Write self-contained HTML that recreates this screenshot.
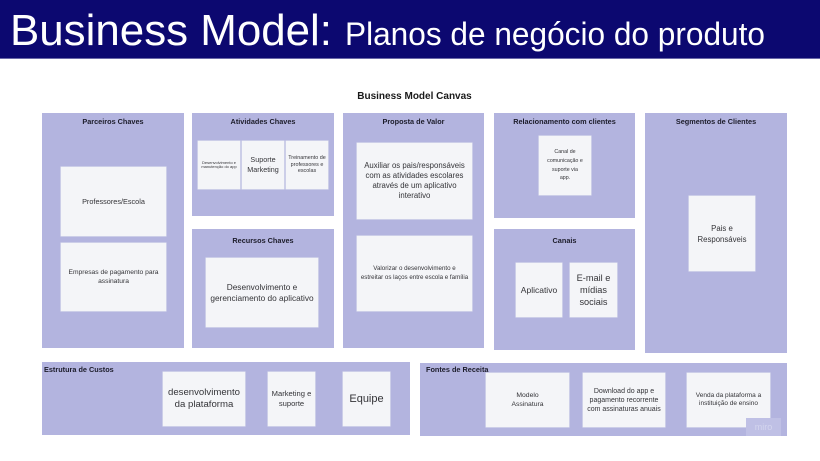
<!DOCTYPE html>
<html>
<head>
<meta charset="utf-8">
<style>
  html,body{margin:0;padding:0;}
  body{width:820px;height:461px;position:relative;overflow:hidden;background:#ffffff;font-family:"Liberation Sans",Arial,sans-serif;}
  .hdr{position:absolute;left:0;top:0;width:820px;height:58px;background:#0c0870;}
  .hline{position:absolute;left:0;top:58px;width:820px;height:1px;background:#6a68a8;}
  .box{position:absolute;background:#b3b4df;}
  .t{position:absolute;left:0;right:0;text-align:center;font-weight:bold;font-size:7.3px;line-height:10px;height:10px;color:#1c1c2a;white-space:nowrap;}
  .c{position:absolute;background:#f4f5f8;display:flex;align-items:center;justify-content:center;text-align:center;color:#343438;white-space:nowrap;box-shadow:0 0 0 0.5px #e6e7f2;}
</style>
</head>
<body>
<div class="hdr"></div>
<div class="hline"></div>
<svg style="position:absolute;left:0;top:0" width="820" height="58">
  <text x="10" y="45" font-family="Liberation Sans, Arial, sans-serif" font-size="44" fill="#ffffff" textLength="322" lengthAdjust="spacingAndGlyphs">Business Model:</text>
  <text x="345" y="45" font-family="Liberation Sans, Arial, sans-serif" font-size="32.5" fill="#ffffff" textLength="420" lengthAdjust="spacingAndGlyphs">Planos de negócio do produto</text>
</svg>

<div style="position:absolute;left:357px;top:91px;width:115px;text-align:center;font-weight:bold;font-size:10px;line-height:12px;color:#1a1a1a;white-space:nowrap;">Business Model Canvas</div>

<!-- Parceiros Chaves -->
<div class="box" style="left:42px;top:113px;width:142px;height:235px;">
  <div class="t" style="top:4px;">Parceiros Chaves</div>
</div>
<div class="c" style="left:61px;top:167px;width:105px;height:69px;font-size:7.3px;">Professores/Escola</div>
<div class="c" style="left:61px;top:243px;width:105px;height:68px;font-size:6.7px;line-height:9px;">Empresas de pagamento para<br>assinatura</div>

<!-- Atividades Chaves -->
<div class="box" style="left:192px;top:113px;width:142px;height:103px;">
  <div class="t" style="top:4px;">Atividades Chaves</div>
</div>
<div class="c" style="left:198px;top:141px;width:42px;height:48px;font-size:4px;line-height:4.4px;">Desenvolvimento e<br>manutenção do app</div>
<div class="c" style="left:242px;top:141px;width:42px;height:48px;font-size:7.2px;line-height:10px;">Suporte<br>Marketing</div>
<div class="c" style="left:286px;top:141px;width:42px;height:48px;font-size:5.4px;line-height:6.8px;">Treinamento de<br>professores e<br>escolas</div>

<!-- Recursos Chaves -->
<div class="box" style="left:192px;top:229px;width:142px;height:119px;">
  <div class="t" style="top:7px;">Recursos Chaves</div>
</div>
<div class="c" style="left:206px;top:258px;width:112px;height:69px;font-size:8.3px;line-height:11px;">Desenvolvimento e<br>gerenciamento do aplicativo</div>

<!-- Proposta de Valor -->
<div class="box" style="left:343px;top:113px;width:141px;height:235px;">
  <div class="t" style="top:4px;">Proposta de Valor</div>
</div>
<div class="c" style="left:357px;top:143px;width:115px;height:76px;font-size:7.8px;line-height:10px;">Auxiliar os pais/responsáveis<br>com as atividades escolares<br>através de um aplicativo<br>interativo</div>
<div class="c" style="left:357px;top:236px;width:115px;height:75px;font-size:6.2px;line-height:8.5px;">Valorizar o desenvolvimento e<br>estreitar os laços entre escola e família</div>

<!-- Relacionamento com clientes -->
<div class="box" style="left:494px;top:113px;width:141px;height:105px;">
  <div class="t" style="top:4px;">Relacionamento com clientes</div>
</div>
<div class="c" style="left:539px;top:136px;width:52px;height:59px;font-size:5.3px;line-height:8.9px;">Canal de<br>comunicação e<br>suporte via<br>app.</div>

<!-- Canais -->
<div class="box" style="left:494px;top:229px;width:141px;height:121px;">
  <div class="t" style="top:7px;">Canais</div>
</div>
<div class="c" style="left:516px;top:263px;width:46px;height:54px;font-size:8.5px;">Aplicativo</div>
<div class="c" style="left:570px;top:263px;width:47px;height:54px;font-size:9.2px;line-height:12px;">E-mail e<br>mídias<br>sociais</div>

<!-- Segmentos de Clientes -->
<div class="box" style="left:645px;top:113px;width:142px;height:240px;">
  <div class="t" style="top:4px;">Segmentos de Clientes</div>
</div>
<div class="c" style="left:689px;top:196px;width:66px;height:75px;font-size:7.8px;line-height:11px;">Pais e<br>Responsáveis</div>

<!-- Estrutura de Custos -->
<div class="box" style="left:42px;top:362px;width:368px;height:73px;">
  <div class="t" style="top:3px;left:2px;text-align:left;">Estrutura de Custos</div>
</div>
<div class="c" style="left:163px;top:372px;width:82px;height:54px;font-size:9.6px;line-height:12.5px;">desenvolvimento<br>da plataforma</div>
<div class="c" style="left:268px;top:372px;width:47px;height:54px;font-size:7.6px;line-height:10px;">Marketing e<br>suporte</div>
<div class="c" style="left:343px;top:372px;width:47px;height:54px;font-size:11px;">Equipe</div>

<!-- Fontes de Receita -->
<div class="box" style="left:420px;top:363px;width:367px;height:73px;">
  <div class="t" style="top:2px;left:6px;text-align:left;">Fontes de Receita</div>
</div>
<div class="c" style="left:486px;top:373px;width:83px;height:54px;font-size:6.8px;line-height:9px;">Modelo<br>Assinatura</div>
<div class="c" style="left:583px;top:373px;width:82px;height:54px;font-size:7px;line-height:9px;">Download do app e<br>pagamento recorrente<br>com assinaturas anuais</div>
<div class="c" style="left:687px;top:373px;width:83px;height:54px;font-size:6.5px;line-height:8px;">Venda da plataforma a<br>instituição de ensino</div>

<!-- miro watermark -->
<div style="position:absolute;left:746px;top:418px;width:35px;height:18px;background:#bfc0e5;"></div>
<div style="position:absolute;left:746px;top:422px;width:35px;text-align:center;font-size:9px;line-height:10px;color:#d4d5ee;">miro</div>
</body>
</html>
